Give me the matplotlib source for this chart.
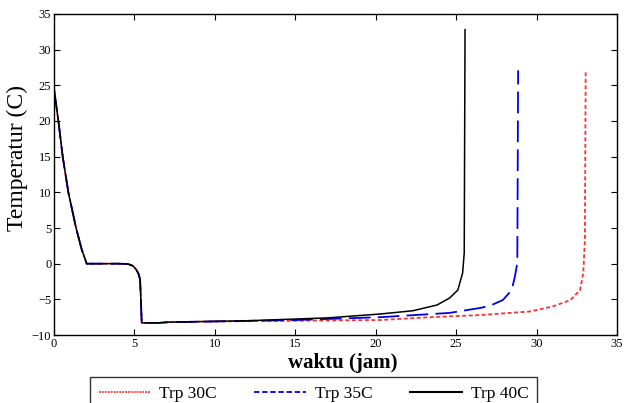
import numpy as np
from matplotlib import pyplot as plt

# common part of all three curves (cooling down to freezing and below)
T_AWAL = [0, 0.27, 0.54, 0.89, 1.37, 1.72, 2.03, 3.0, 4.0, 4.6, 4.9, 5.1, 5.25, 5.35, 5.4, 5.45, 5.5, 6.5]
SUHU_AWAL = [24.5, 20, 15, 10, 5, 2, 0, 0, 0, -0.05, -0.3, -0.8, -1.4, -2.2, -5.0, -8.3, -8.3, -8.3]

T_30 = [7.2, 10, 15, 20.3, 23.4, 26.5, 29.6, 31.0, 32.1, 32.7, 32.9, 33.0, 33.05]
SUHU_30 = [-8.2, -8.1, -8.0, -7.9, -7.5, -7.2, -6.7, -6.0, -5.1, -3.7, -1.3, 3.3, 27.1]

T_35 = [7.2, 10, 15, 20.3, 24.6, 26.5, 27.1, 27.9, 28.45, 28.65, 28.8, 28.85]
SUHU_35 = [-8.2, -8.1, -7.9, -7.5, -6.9, -6.2, -5.9, -5.1, -3.7, -1.8, 0.1, 27.1]

T_40 = [7.0, 12, 17, 20.3, 22.3, 23.8, 24.6, 25.1, 25.4, 25.5, 25.55]
SUHU_40 = [-8.2, -8.0, -7.6, -7.05, -6.6, -5.8, -4.8, -3.7, -1.3, 1.5, 32.8]

LABELS = ['Trp 30C', 'Trp 35C', 'Trp 40C']


def main():
    plt.rcParams['font.family'] = ['Liberation Serif', 'DejaVu Serif']
    fig = plt.figure(figsize=(6.29, 4.03), dpi=100)
    ax = fig.add_axes([0.0859, 0.1687, 0.8951, 0.7966])

    t30 = np.concatenate([T_AWAL, T_30])
    s30 = np.concatenate([SUHU_AWAL, SUHU_30])
    t35 = np.concatenate([T_AWAL, T_35])
    s35 = np.concatenate([SUHU_AWAL, SUHU_35])
    t40 = np.concatenate([T_AWAL, T_40])
    s40 = np.concatenate([SUHU_AWAL, SUHU_40])

    ax.plot(t30, s30, color='#ff3030', lw=1.3, linestyle=(0, (2.2, 1.4)))
    ax.plot(t35, s35, color='#0000ee', lw=1.3, linestyle=(0, (12, 4)))
    ax.plot(t40, s40, color='black', lw=1.1)

    ax.set_xlim(0, 35)
    ax.set_ylim(-10, 35)
    ax.set_xticks(np.arange(0, 36, 5))
    ax.set_yticks(np.arange(-10, 36, 5))
    ax.tick_params(direction='in', top=True, right=True, length=4, labelsize=9, pad=2)
    for sp in ax.spines.values():
        sp.set_linewidth(1.0)

    ax.set_xlabel('waktu (jam)', fontsize=15, fontweight='bold')
    ax.set_ylabel('Temperatur (C)', fontsize=17)
    ax.xaxis.set_label_coords(0.513, -0.056)
    ax.yaxis.set_label_coords(-0.046, 0.55)

    # legend entries drawn with short dashes like the original
    h1, = ax.plot([], [], color='#ff3030', lw=1.3, linestyle=(0, (1, 0.6)))
    h2, = ax.plot([], [], color='#0000ee', lw=1.3, linestyle=(0, (3, 1.5)))
    h3, = ax.plot([], [], color='black', lw=1.5)
    leg = fig.legend([h1, h2, h3], LABELS, loc='upper left', bbox_to_anchor=(0.143, 0.0645),
                     ncol=3, fontsize=12.5, frameon=True, fancybox=False, borderaxespad=0,
                     handlelength=3.0, columnspacing=2.15, borderpad=0.5, handletextpad=0.5)
    leg.get_frame().set_edgecolor('black')
    leg.get_frame().set_linewidth(1.0)

    fig.savefig('out.png', dpi=100)


if __name__ == '__main__':
    main()
